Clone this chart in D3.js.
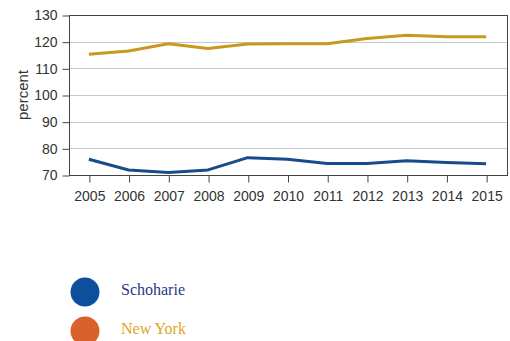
<!DOCTYPE html>
<html>
<head>
<meta charset="utf-8">
<script src="https://cdn.jsdelivr.net/npm/d3@7/dist/d3.min.js"></script>
<style>
  html, body { margin: 0; padding: 0; background: #fff; }
  svg { display: block; }
</style>
</head>
<body>
<svg id="chart" width="510" height="341"></svg>
<script>
// Years on the x axis
const years = [2005, 2006, 2007, 2008, 2009, 2010, 2011, 2012, 2013, 2014, 2015];
// Percent values per series
const schoharie = [75.9, 71.9, 70.9, 71.9, 76.5, 75.9, 74.3, 74.3, 75.3, 74.7, 74.2];
const newYork = [115.3, 116.5, 119.2, 117.4, 119.1, 119.2, 119.2, 121.2, 122.4, 121.8, 121.8];
// Y axis ticks
const yTicks = [70, 80, 90, 100, 110, 120, 130];
const seriesNames = ["Schoharie", "New York"];

const svg = d3.select("#chart");
const plotLeft = 69, plotRight = 508, plotTop = 15, plotBottom = 175;

const x = d3.scaleLinear().domain([2004.5, 2015.55]).range([plotLeft, plotRight]);
const y = d3.scaleLinear().domain([70, 130]).range([plotBottom, plotTop]);

// Horizontal gridlines
svg.append("g").selectAll("line").data(yTicks.slice(1, -1)).join("line")
  .attr("x1", plotLeft).attr("x2", plotRight)
  .attr("y1", d => Math.round(y(d)) + 0.5).attr("y2", d => Math.round(y(d)) + 0.5)
  .attr("stroke", "#c8c8c8").attr("stroke-width", 1);

// Y axis
const yAxis = svg.append("g").attr("transform", `translate(${plotLeft + 0.5},0.5)`)
  .call(d3.axisLeft(y).tickValues(yTicks).tickSize(7).tickPadding(5));
yAxis.select(".domain").remove();
yAxis.selectAll("line").attr("stroke", "#444");
yAxis.selectAll("text").attr("font-family", "Liberation Sans, Arial, sans-serif")
  .attr("font-size", 14).attr("fill", "#333");

// X axis
const xAxis = svg.append("g").attr("transform", `translate(0.5,${plotBottom + 0.5})`)
  .call(d3.axisBottom(x).tickValues(years).tickFormat(d3.format("d")).tickSize(7).tickPadding(8.5));
xAxis.select(".domain").remove();
xAxis.selectAll("line").attr("stroke", "#444");
xAxis.selectAll("text").attr("font-family", "Liberation Sans, Arial, sans-serif")
  .attr("font-size", 14).attr("fill", "#333");

// Plot frame
svg.append("rect")
  .attr("x", plotLeft + 0.5).attr("y", plotTop + 0.5)
  .attr("width", plotRight - plotLeft - 1).attr("height", plotBottom - plotTop)
  .attr("fill", "none").attr("stroke", "#444").attr("stroke-width", 1);

// Y axis title
svg.append("text")
  .attr("transform", `translate(28,${(plotTop + plotBottom) / 2}) rotate(-90)`)
  .attr("text-anchor", "middle")
  .attr("font-family", "Liberation Sans, Arial, sans-serif")
  .attr("font-size", 15).attr("fill", "#333")
  .text("percent");

// Series lines
const line = d3.line().x((d, i) => x(years[i])).y(d => y(d));
svg.append("path").datum(newYork)
  .attr("d", line).attr("fill", "none")
  .attr("stroke", "#c9981f").attr("stroke-width", 3).attr("stroke-linejoin", "round");
svg.append("path").datum(schoharie)
  .attr("d", line).attr("fill", "none")
  .attr("stroke", "#174b8b").attr("stroke-width", 3).attr("stroke-linejoin", "round");

// Legend
const legendCircle = ["#0d4f9c", "#d9622b"];
const legendText = ["#1f3a8a", "#e0a426"];
const legend = svg.append("g").selectAll("g").data(seriesNames).join("g")
  .attr("transform", (d, i) => `translate(0,${292 + i * 39})`);
legend.append("circle").attr("cx", 85).attr("cy", 0).attr("r", 14.5)
  .attr("fill", (d, i) => legendCircle[i]);
legend.append("text").attr("x", 121).attr("y", 3)
  .attr("font-family", "Liberation Serif, Times New Roman, serif")
  .attr("font-size", 16)
  .attr("fill", (d, i) => legendText[i])
  .text(d => d);
</script>
</body>
</html>
